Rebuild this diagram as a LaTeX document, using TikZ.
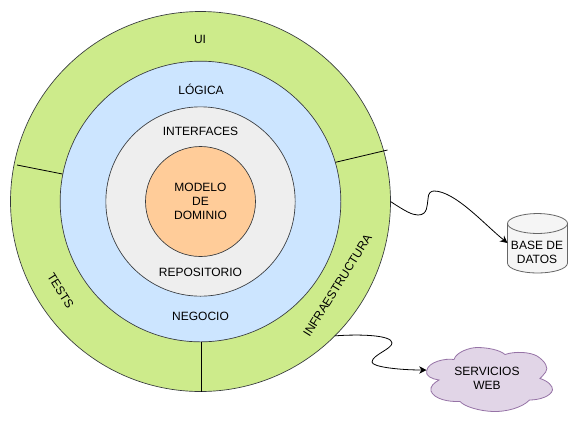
\documentclass[tikz,border=0pt]{standalone}
\usepackage{fontspec}
\setmainfont{Liberation Sans}
\usetikzlibrary{arrows.meta}
\definecolor{ringgreen}{HTML}{CDEB8B}
\definecolor{ringblue}{HTML}{CCE5FF}
\definecolor{ringgrey}{HTML}{EEEEEE}
\definecolor{coreorange}{HTML}{FFCC99}
\definecolor{cloudfill}{HTML}{E1D5E7}
\definecolor{cloudline}{HTML}{9673A6}
\definecolor{dbfill}{HTML}{F5F5F5}
\definecolor{dbline}{HTML}{666666}
\definecolor{ringline}{HTML}{36393D}
\tikzset{
  ring/.style={circle,draw=ringline,line width=0.5pt,inner sep=0pt,outer sep=0pt},
  lbl/.style={font=\fontsize{9}{10.5}\selectfont,align=center,inner sep=0pt,text=black},
  divider/.style={draw=black,line width=0.6pt},
  wire/.style={draw=black,line width=0.6pt,-{Stealth[length=5.5pt,width=5.5pt]}}
}
\begin{document}
\begin{tikzpicture}[x=0.75pt,y=-0.75pt]
\useasboundingbox (0,0) rectangle (578,426);
\node[ring,fill=ringgreen,minimum size=285pt] (outer) at (200.5,201.5) {};
\node[ring,fill=ringblue,minimum size=210.5pt] (blue) at (200.5,201.5) {};
\node[ring,fill=ringgrey,minimum size=142pt] (grey) at (200.5,201.5) {};
\node[ring,fill=coreorange,minimum size=82.5pt] (core) at (200.5,201.5) {};
% dividers
\coordinate (d1a) at (335.5,162.3);
\coordinate (d1b) at (387.5,150);
\coordinate (d2a) at (17,165);
\coordinate (d2b) at (62.5,174);
\coordinate (d3a) at (201,342);
\coordinate (d3b) at (201,391.5);
\draw[divider] (d1a) -- (d1b);
\draw[divider] (d2a) -- (d2b);
\draw[divider] (d3a) -- (d3b);
% labels
\node[lbl] (ui) at (200,39) {UI};
\node[lbl] (logica) at (201,89.5) {LÓGICA};
\node[lbl] (interfaces) at (200.5,131) {INTERFACES};
\node[lbl] (modelo) at (200.5,201.5) {MODELO\\DE\\DOMINIO};
\node[lbl] (repo) at (200.5,272.5) {REPOSITORIO};
\node[lbl] (negocio) at (200.5,316) {NEGOCIO};
\node[lbl,rotate=-58] (tests) at (60.5,290.5) {TESTS};
\node[lbl,rotate=58] (infra) at (337.5,285.5) {INFRAESTRUCTURA};
% database
\draw[draw=dbline,fill=dbfill,line width=0.6pt]
  (507.5,223.5) .. controls (507.5,218) and (522,213.5) .. (537.5,213.5)
  .. controls (553,213.5) and (567.5,218) .. (567.5,223.5)
  -- (567.5,263)
  .. controls (567.5,269) and (553,273) .. (537.5,273)
  .. controls (522,273) and (507.5,269) .. (507.5,263) -- cycle;
\draw[draw=dbline,line width=0.6pt]
  (507.5,223.5) .. controls (507.5,229) and (522,233.5) .. (537.5,233.5)
  .. controls (553,233.5) and (567.5,229) .. (567.5,223.5);
\node[inner sep=0pt,outer sep=0pt,minimum width=45pt,minimum height=45pt] (db) at (537.5,243) {};
\node[lbl] (dblabel) at (537,252.5) {BASE DE\\DATOS};
% cloud
\draw[draw=cloudline,fill=cloudfill,line width=0.6pt]
  (426.7,370.7)
  .. controls (428,362) and (445,358) .. (454,359.5)
  .. controls (456,352) and (470,347.5) .. (477,347.5)
  .. controls (488,347.5) and (500,350) .. (505,354.5)
  .. controls (515,351) and (530,352) .. (537,356)
  .. controls (545,361) and (549,368) .. (545.7,372)
  .. controls (544,375) and (541,377) .. (540,378.5)
  .. controls (548,381) and (553,386) .. (552.5,390)
  .. controls (551,396) and (540,400) .. (529.5,400)
  .. controls (522,408) and (505,412) .. (493,411.5)
  .. controls (480,411) and (465,407) .. (460,401.5)
  .. controls (448,402) and (434,399) .. (431,391)
  .. controls (430,386) and (434,383) .. (439,380)
  .. controls (432,379) and (425,376) .. (426.7,370.7) -- cycle;
\coordinate (cloudwest) at (426.5,370);
\node[lbl] (web) at (487,378.5) {SERVICIOS\\WEB};
% connectors
\draw[wire] (outer.east) .. controls (405,211) and (412,215) .. (418,215)
  .. controls (428,215) and (427,205) .. (428,199)
  .. controls (428,193) and (431,191) .. (434,191)
  .. controls (455,191) and (485,225) .. (db.west);
\draw[wire] (outer.-45) .. controls (360,334) and (392,335) .. (392,343)
  .. controls (392,349) and (372,355) .. (372,362)
  .. controls (372,367) and (400,370) .. (cloudwest);
\end{tikzpicture}
\end{document}
